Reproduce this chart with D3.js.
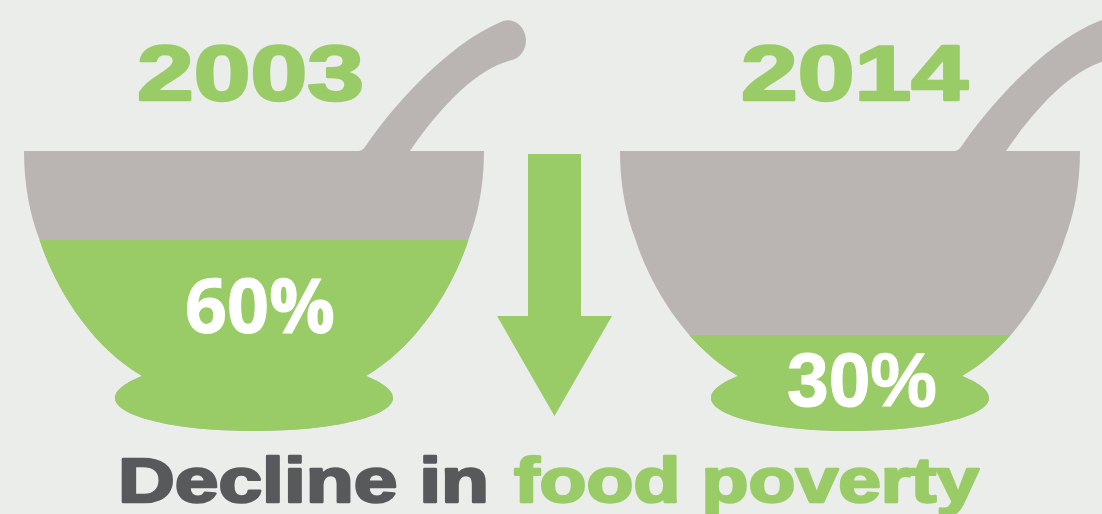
<!DOCTYPE html>
<html><head><meta charset="utf-8">
<style>html,body{margin:0;padding:0;background:#ebedea;overflow:hidden}svg{display:block}</style>
<script src="https://cdn.jsdelivr.net/npm/d3@7"></script></head>
<body><svg id="c" width="1102" height="514"></svg>
<script>
const years = ["2003", "2014"];
const shares = [60, 30];
const shareLabels = ["60%", "30%"];

const GREEN = "#99cc66", GREY = "#bab5b2", DARK = "#58595b";
const HEAVY = "'Liberation Sans'";
const svg = d3.select("#c");

// Bowl centres, and the fill line derived from the share it stands for
const bowlX = d3.scaleOrdinal().domain(years).range([254, 850]);
const level = d3.scaleLinear().domain([0, 60]).range([430, 240]);

// Bowl silhouette relative to its centre line
const bodyOutline = "H230 C230,185 224,215 214.7,239 C200,285 165,345 112,376 C122,380 139,388 139,398 C139,416 80,431 0,431 C-80,431 -139,416 -139,398 C-139,388 -122,380 -112,376 C-165,345 -200,285 -214.7,239 C-224,215 -230,185 -230,151 Z";
const bodyPath = "M-230,151 " + bodyOutline;
const spoonPath = "M-230,151 H104 Q108,151 111,147 C136,110 191,45 249,21 C261,17 272,28 272,40 C272,50 266,58 258,60 C226,68 191,100 156,151 " + bodyOutline;

const defs = svg.append("defs");
years.forEach(y => {
  defs.append("clipPath").attr("id", "body" + y).append("path").attr("d", bodyPath);
});

const bowls = svg.selectAll("g.bowl").data(years).join("g")
  .attr("class", "bowl")
  .attr("transform", d => `translate(${bowlX(d)},0)`);

bowls.append("path").attr("d", spoonPath).attr("fill", GREY);
bowls.append("g").attr("clip-path", d => `url(#body${d})`)
  .append("rect")
  .attr("x", -240).attr("width", 480)
  .attr("y", (d, i) => level(shares[i]))
  .attr("height", (d, i) => level(0) - level(shares[i]) + 5)
  .attr("fill", GREEN);

// Year headings, stretched wide and thickened with a stroke
svg.selectAll("text.year").data(years).join("text")
  .attr("class", "year").text(d => d)
  .attr("x", (d, i) => [137, 741][i]).attr("y", 100)
  .attr("font-family", HEAVY).attr("font-weight", 700)
  .attr("font-size", 77).attr("fill", GREEN)
  .attr("stroke", GREEN).attr("stroke-width", 2.5).attr("stroke-linejoin", "round")
  .attr("textLength", 227).attr("lengthAdjust", "spacingAndGlyphs");

// Percentage labels inside the fill
svg.selectAll("text.share").data(shareLabels).join("text")
  .attr("class", "share").text(d => d)
  .attr("x", (d, i) => [185, 787][i]).attr("y", (d, i) => [333, 406][i])
  .attr("font-family", (d, i) => ["'Open Sans'", HEAVY][i]).attr("font-weight", 700)
  .attr("font-size", 76).attr("fill", "#fff")
  .attr("stroke", "#fff").attr("stroke-width", 1)
  .attr("textLength", 150).attr("lengthAdjust", "spacingAndGlyphs");

// Downward arrow between the two bowls
svg.append("path")
  .attr("d", d3.line()([[528,154],[581,154],[581,316],[612,316],[554.5,416],[497,316],[528,316]]) + "Z")
  .attr("fill", GREEN);

// Two-colour caption along the bottom
const captionParts = [
  { text: "Decline in", colour: DARK, x: 118, width: 371 },
  { text: "food poverty", colour: GREEN, x: 514, width: 465 }
];
svg.selectAll("text.caption").data(captionParts).join("text")
  .attr("class", "caption").text(d => d.text)
  .attr("x", d => d.x).attr("y", 502)
  .attr("font-family", HEAVY).attr("font-weight", 700).attr("font-size", 63)
  .attr("fill", d => d.colour)
  .attr("stroke", d => d.colour).attr("stroke-width", 2.5).attr("stroke-linejoin", "round")
  .attr("textLength", d => d.width).attr("lengthAdjust", "spacingAndGlyphs");
</script></body></html>
